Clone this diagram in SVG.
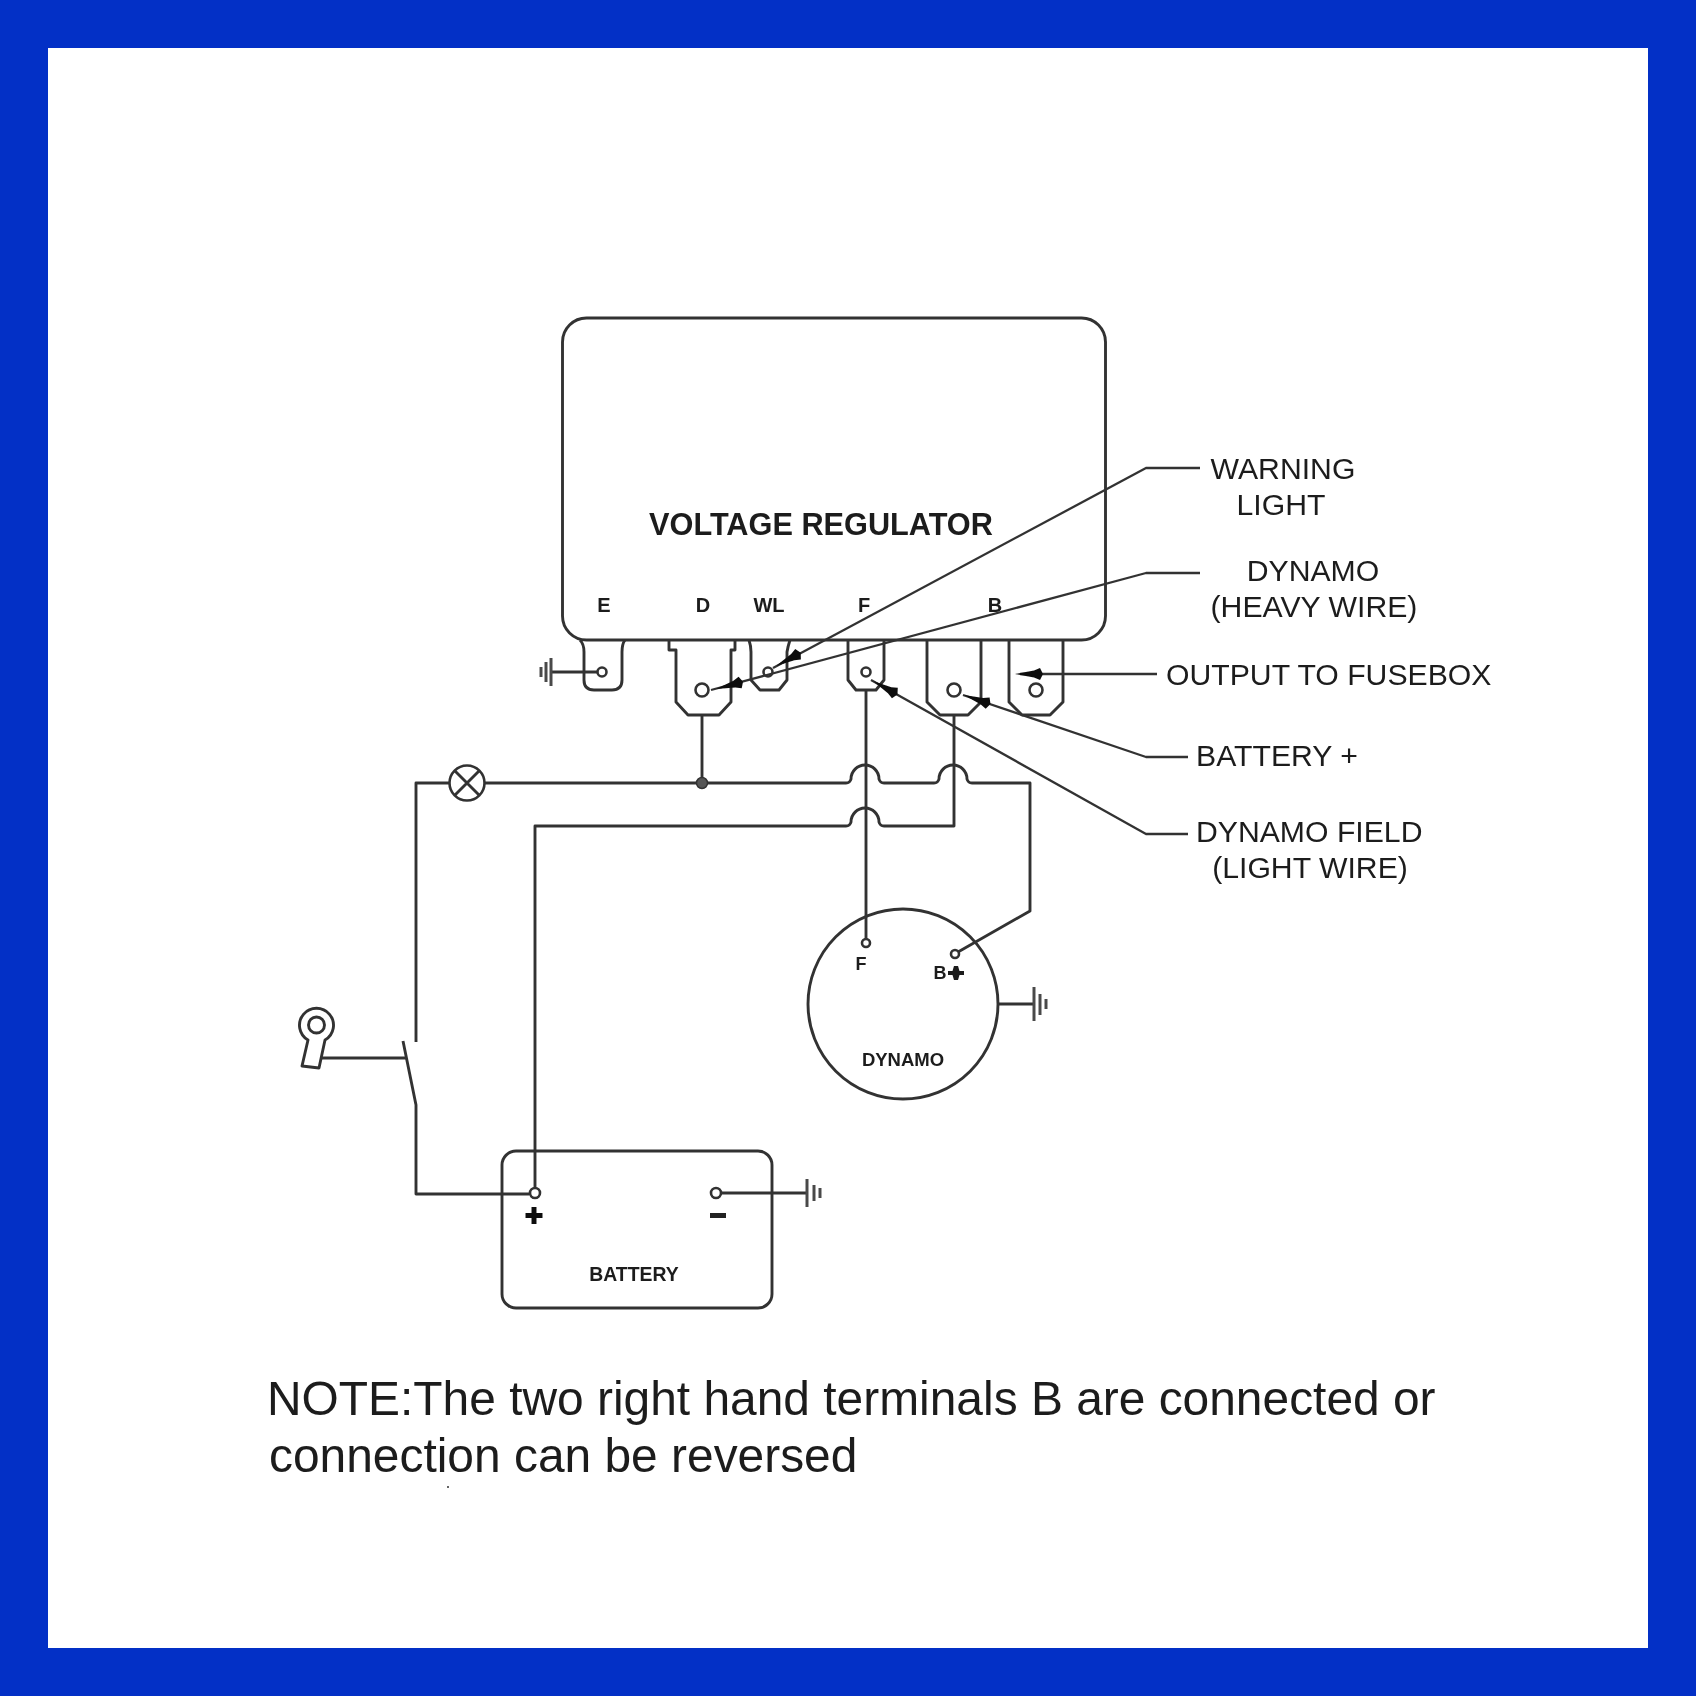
<svg xmlns="http://www.w3.org/2000/svg" width="1696" height="1696" viewBox="0 0 1696 1696">
<style>
.w{fill:none;stroke:#333;stroke-width:2.9;stroke-linejoin:round}
.ld{fill:none;stroke:#333;stroke-width:2.3;stroke-linejoin:round}
.h{fill:#fff;stroke:#333;stroke-width:2.6}
.g{fill:none;stroke:#4a4a4a;stroke-width:3}
text{font-family:"Liberation Sans",Arial,sans-serif;fill:#1c1c1c}
.l{font-size:30.2px}
.b{font-weight:bold}
.m{text-anchor:middle}
.t{font-size:20px}
.n{font-size:47.9px}
</style>
<defs>
<path id="arrow" d="M0 0L-19 -3.500L-25 -6L-28 0L-25 6L-19 3.500Z" fill="#111"/>
<filter id="soft" filterUnits="userSpaceOnUse" x="0" y="0" width="1696" height="1696"><feGaussianBlur stdDeviation="0.6"/></filter>
</defs>
<rect width="1696" height="1696" fill="#0330c6"/>
<rect x="48" y="48" width="1600" height="1600" fill="#fff"/>
<g filter="url(#soft)">
<g id="voltage-regulator">
<rect class="w" x="562.5" y="318" width="543" height="322" rx="24"/>
<text class="b m" x="821" y="535" font-size="30.7">VOLTAGE REGULATOR</text>
<text class="b m t" x="604" y="612">E</text>
<text class="b m t" x="703" y="612">D</text>
<text class="b m t" x="769" y="612">WL</text>
<text class="b m t" x="864" y="612">F</text>
<text class="b m t" x="995" y="612">B</text>
</g>
<g id="terminal-e">
<path class="w" d="M580 640Q584 644 584 652V680Q584 690 594 690H612Q622 690 622 680V652Q622 644 625 640"/>
<circle class="h" cx="602" cy="672" r="4.500"/>
</g>
<g id="terminal-d">
<path class="w" d="M669 640V650H676V702L688 715H719L731 702V650H735V640"/>
<circle class="h" cx="702" cy="690" r="6.500"/>
</g>
<g id="terminal-wl">
<path class="w" d="M749 640Q751 646 751 652V680L760 690H779L787 680V652Q788 646 790 640"/>
<circle class="h" cx="768" cy="672" r="4.500"/>
</g>
<g id="terminal-f">
<path class="w" d="M848 640V680L856 690H876L884 680V640"/>
<circle class="h" cx="866" cy="672" r="4.500"/>
</g>
<g id="terminal-b1">
<path class="w" d="M927 640V702L940 715H968L981 702V640"/>
<circle class="h" cx="954" cy="690" r="6.500"/>
</g>
<g id="terminal-b2">
<path class="w" d="M1009 640V702L1022 715H1050L1063 702V640"/>
<circle class="h" cx="1036" cy="690" r="6.500"/>
</g>

<g id="connectors">
<path class="w" d="M449 783H846q4 0 5 -4a14 14 0 0 1 28 0q1 4 5 4H934q4 0 5 -4a14 14 0 0 1 28 0q1 4 5 4H1030V911L958 952"/>
<path class="w" d="M702 715V783"/>
<path class="w" d="M535 1187V826H846q4 0 5 -4a14 14 0 0 1 28 0q1 4 5 4H954V715"/>
<path class="w" d="M866 690V939"/>
<path class="w" d="M449 783H416V1042"/>
<path class="w" d="M403 1041L416 1105V1194H529"/>
<path class="w" d="M322 1058H406" stroke-width="4"/>
<path class="w" d="M721 1193H806"/>
<path class="w" d="M597 672H551"/>
<path class="w" d="M997 1004H1033" stroke-width="4"/>
<g id="leaders">
<path class="ld" d="M1200 468H1146L773 668"/>
<path class="ld" d="M1200 573H1146L711 690"/>
<path class="ld" d="M1157 674H1020"/>
<path class="ld" d="M1188 757H1146L963 695"/>
<path class="ld" d="M1188 834H1146L871 680"/>
<use href="#arrow" transform="translate(776 666) rotate(152)"/>
<use href="#arrow" transform="translate(716 689) rotate(165)"/>
<use href="#arrow" transform="translate(1015 674) rotate(180)"/>
<use href="#arrow" transform="translate(964 695) rotate(199)"/>
<use href="#arrow" transform="translate(873 681) rotate(209)"/>
</g>
</g>

<g id="junction"><circle cx="702" cy="783" r="5.500" fill="#555" stroke="#333" stroke-width="1.500"/></g>
<g id="lamp">
<circle class="h" cx="467" cy="783" r="17.500"/>
<path class="w" d="M455 771L479 795M479 771L455 795"/>
</g>
<g id="ground-e">
<path class="g" d="M551 658V686M546 662V682M541 667V677" stroke-width="3.800"/>
</g>
<g id="dynamo">
<circle class="w" cx="903" cy="1004" r="95"/>
<circle class="h" cx="866" cy="943" r="4"/>
<circle class="h" cx="955" cy="954" r="4"/>
<text class="b m" x="861" y="970" font-size="18">F</text>
<text class="b m" x="940" y="979" font-size="18">B</text>
<path d="M954 966h4l1.500 5h4.500v4h-4.500l-1.500 5h-4l-1.500 -5h-4.500v-4h4.500z" fill="#1c1c1c"/>
<text class="b m" x="903" y="1066" font-size="18.500">DYNAMO</text>
<path class="g" d="M1034 987V1021M1040 994V1015M1046 999V1009"/>
</g>
<g id="key-switch">
<path class="w" d="M302 1066L308 1040A17 17 0 1 1 325 1040L319 1068Z"/>
<circle class="w" cx="316.500" cy="1025" r="8"/>
</g>
<g id="battery">
<rect class="w" x="502" y="1151" width="270" height="157" rx="14"/>
<circle class="h" cx="535" cy="1193" r="5"/>
<circle class="h" cx="716" cy="1193" r="5"/>
<path d="M531.500 1207h5v6h6v5h-6v6h-5v-6h-6v-5h6z" fill="#111"/>
<rect x="710" y="1213" width="16" height="5" fill="#222"/>
<text class="b m" x="634" y="1281" font-size="19.400">BATTERY</text>
<path class="g" d="M807 1179V1207M814 1185V1201M820 1188V1198"/>
</g>
<g id="labels">
<text class="l m" x="1283" y="479">WARNING</text>
<text class="l m" x="1281" y="515">LIGHT</text>
<text class="l m" x="1313" y="581">DYNAMO</text>
<text class="l m" x="1314" y="617">(HEAVY WIRE)</text>
<text class="l" x="1166" y="685">OUTPUT TO FUSEBOX</text>
<text class="l" x="1196" y="766">BATTERY +</text>
<text class="l" x="1196" y="842">DYNAMO FIELD</text>
<text class="l m" x="1310" y="878">(LIGHT WIRE)</text>
<text class="n" x="267" y="1415">NOTE:The two right hand terminals B are connected or</text>
<text class="n" x="269" y="1472">connection can be reversed</text>
<circle cx="448" cy="1487" r="1" fill="#333"/>
</g>
</g>
</svg>
